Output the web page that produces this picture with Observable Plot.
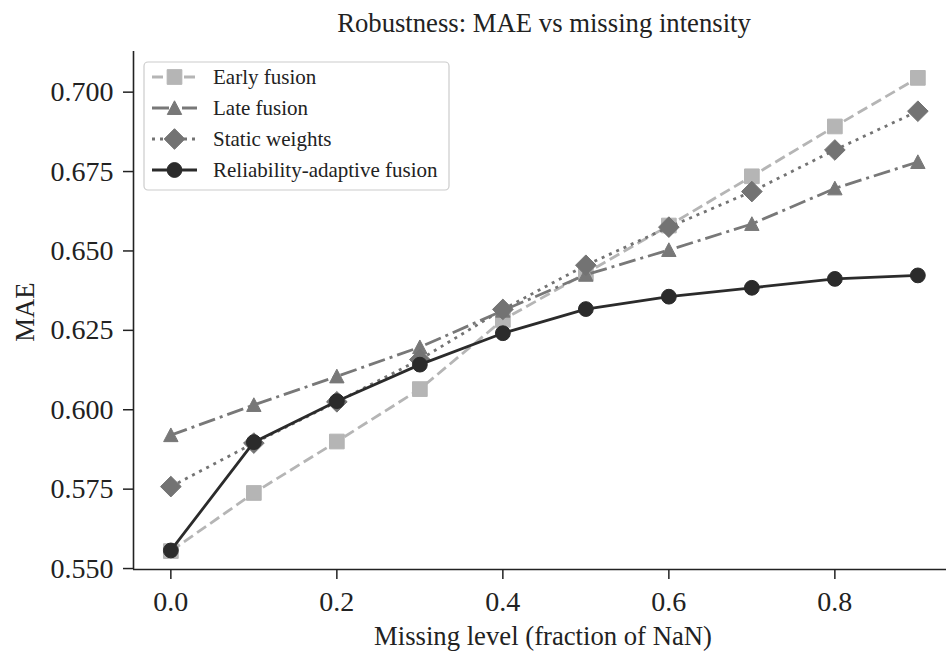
<!DOCTYPE html>
<html>
<head>
<meta charset="utf-8">
<script src="https://cdn.jsdelivr.net/npm/d3@7"></script>
<script src="https://cdn.jsdelivr.net/npm/@observablehq/plot@0.6"></script>
<style>
  html, body { margin: 0; padding: 0; background: #fff; }
  #chart { width: 946px; height: 655px; }
</style>
</head>
<body>
<div id="chart"></div>
<script>
// ---- data ----
const missing = [0.0, 0.1, 0.2, 0.3, 0.4, 0.5, 0.6, 0.7, 0.8, 0.9];
const earlyFusion = [0.5555, 0.5738, 0.5900, 0.6065, 0.6283, 0.6430, 0.6580, 0.6735, 0.6892, 0.7045];
const lateFusion = [0.5920, 0.6015, 0.6105, 0.6197, 0.6312, 0.6425, 0.6503, 0.6585, 0.6697, 0.6780];
const staticWeights = [0.5758, 0.5895, 0.6025, 0.6158, 0.6316, 0.6455, 0.6575, 0.6687, 0.6818, 0.6940];
const reliabilityAdaptive = [0.5557, 0.5898, 0.6027, 0.6142, 0.6241, 0.6317, 0.6356, 0.6384, 0.6412, 0.6423];

const seriesNames = ["Early fusion", "Late fusion", "Static weights", "Reliability-adaptive fusion"];
const xTicks = [0.0, 0.2, 0.4, 0.6, 0.8];
const yTicks = [0.550, 0.575, 0.600, 0.625, 0.650, 0.675, 0.700];
const titleText = "Robustness: MAE vs missing intensity";
const xLabel = "Missing level (fraction of NaN)";
const yLabel = "MAE";

const xDomain = [-0.045, 0.9345];
const yDomain = [0.5497, 0.7128];

// matplotlib-like upward triangle (bbox-centred)
const mplTriangle = {
  draw(ctx, size) {
    const r = Math.sqrt(size / Math.PI);
    ctx.moveTo(0, -r);
    ctx.lineTo(r, r * 0.9);
    ctx.lineTo(-r, r * 0.9);
    ctx.closePath();
  }
};

const styles = [
  {color: "#b5b5b5", dash: "11,5", symbol: "square", r: 8.3},
  {color: "#787878", dash: "17,5,3,5", symbol: mplTriangle, r: 7.2},
  {color: "#737373", dash: "3,5", symbol: "diamond2", r: 9.3},
  {color: "#2b2b2b", dash: null, symbol: "circle", r: 7.4}
];
const allSeries = [earlyFusion, lateFusion, staticWeights, reliabilityAdaptive];

const tables = allSeries.map((vals, k) => missing.map((m, i) => ({m, v: vals[i], s: seriesNames[k]})));

const marks = [];
tables.forEach((rows, k) => {
  const st = styles[k];
  marks.push(Plot.line(rows, {x: "m", y: "v", stroke: st.color, strokeWidth: 2.8,
    strokeDasharray: st.dash, strokeLinecap: "butt"}));
  marks.push(Plot.dot(rows, {x: "m", y: "v", symbol: st.symbol, r: st.r, fill: st.color, stroke: st.color, strokeWidth: 1}));
});

const chart = Plot.plot({
  width: 946,
  height: 655,
  marginLeft: 133,
  marginRight: 0,
  marginTop: 51,
  marginBottom: 86,
  style: {fontFamily: "'Liberation Serif', 'Times New Roman', serif", fontSize: "28px", color: "#222", background: "#fff"},
  x: {domain: xDomain, label: null},
  y: {domain: yDomain, label: null},
  marks: [
    ...marks,
    Plot.ruleX([xDomain[0]], {stroke: "#222", strokeWidth: 1.6}),
    Plot.ruleY([yDomain[0]], {stroke: "#222", strokeWidth: 1.6}),
    Plot.axisX({ticks: xTicks, tickFormat: d3.format(".1f"), tickSize: 10, tickPadding: 12, fontSize: 28, label: null, stroke: "#222", strokeWidth: 1.5}),
    Plot.axisY({ticks: yTicks, tickFormat: d3.format(".3f"), tickSize: 10, tickPadding: 10, fontSize: 28, label: null, stroke: "#222", strokeWidth: 1.5})
  ]
});

document.getElementById("chart").appendChild(chart);

const svg = d3.select(chart);
const font = "'Liberation Serif', 'Times New Roman', serif";

// title and axis labels
svg.append("text").attr("x", 544).attr("y", 32).attr("text-anchor", "middle")
  .attr("font-family", font).attr("font-size", 26.7).attr("fill", "#222").text(titleText);
svg.append("text").attr("x", 543).attr("y", 645).attr("text-anchor", "middle")
  .attr("font-family", font).attr("font-size", 26.7).attr("fill", "#222").text(xLabel);
svg.append("text").attr("transform", "translate(34,312) rotate(-90)").attr("text-anchor", "middle")
  .attr("font-family", font).attr("font-size", 26.7).attr("fill", "#222").text(yLabel);

// legend
const lg = svg.append("g");
lg.append("rect").attr("x", 144).attr("y", 62).attr("width", 305).attr("height", 128)
  .attr("rx", 4).attr("fill", "rgba(255,255,255,0.85)").attr("stroke", "#cccccc").attr("stroke-width", 1.2);
const rowY = [77, 108, 139, 170];
seriesNames.forEach((name, k) => {
  const st = styles[k];
  const y = rowY[k];
  lg.append("line").attr("x1", 152).attr("x2", 197).attr("y1", y).attr("y2", y)
    .attr("stroke", st.color).attr("stroke-width", 2.8).attr("stroke-dasharray", st.dash);
  const sym = typeof st.symbol === "string"
    ? ({square: d3.symbolSquare, diamond2: d3.symbolDiamond2, circle: d3.symbolCircle})[st.symbol]
    : st.symbol;
  lg.append("path").attr("d", d3.symbol(sym, Math.PI * st.r * st.r)())
    .attr("transform", `translate(174.5,${y})`)
    .attr("fill", st.color).attr("stroke", st.color).attr("stroke-width", 1);
  lg.append("text").attr("x", 213).attr("y", y).attr("dy", "0.35em").attr("text-anchor", "start")
    .attr("font-family", font).attr("font-size", 21).attr("fill", "#222").text(name);
});
</script>
</body>
</html>
